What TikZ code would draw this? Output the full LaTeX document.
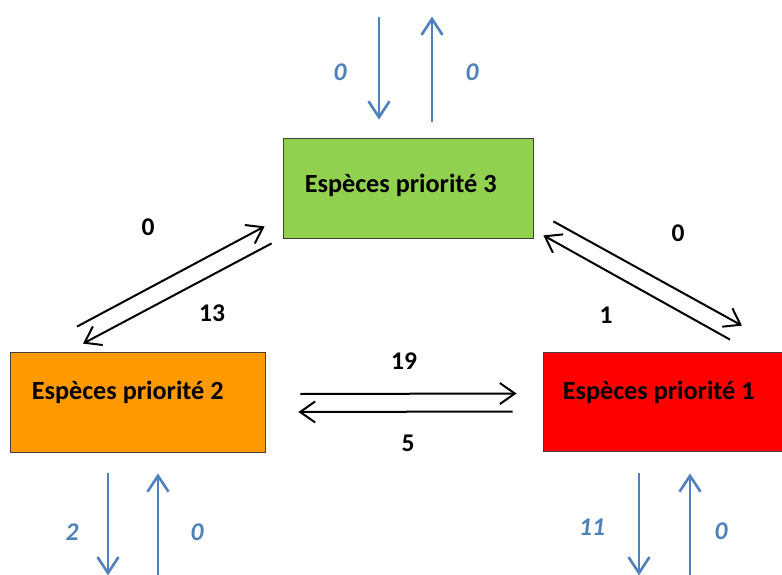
\documentclass[tikz,border=0pt]{standalone}
\usepackage{fontspec}
\setmainfont{Carlito}
\usepackage{xcolor}
\usetikzlibrary{arrows.meta,calc,positioning}
\definecolor{vertp}{HTML}{92D050}
\definecolor{orangep}{HTML}{FF9900}
\definecolor{rougep}{HTML}{FF0000}
\definecolor{bleup}{HTML}{4F81BD}
\tikzstyle{flux}=[draw=black, line width=2pt, -{Straight Barb[length=15pt,width=21pt]}]
\tikzstyle{fluxext}=[draw=bleup, line width=2.6pt, -{Straight Barb[length=16pt,width=21pt]}]

\begin{document}
\begin{tikzpicture}[x=1pt,y=-1pt,
	box/.style={draw=black!75, line width=0.8pt, minimum width=250pt, minimum height=100pt, inner sep=0pt},
	nom/.style={anchor=base west, inner sep=0pt, font=\fontsize{26.2}{30}\selectfont\bfseries},
	nb/.style={inner sep=0pt, font=\fontsize{25.5}{30}\selectfont\bfseries},
	nbext/.style={inner sep=0pt, text=bleup, font=\fontsize{25.5}{30}\selectfont\bfseries\itshape}]
	\useasboundingbox (0,0) rectangle (782,575);
	% boites
	\node[box, fill=vertp] (p3) at (408,188) {};
	\node[box, fill=orangep, minimum width=255pt] (p2) at (137.5,402) {};
	\node[box, fill=rougep, minimum height=99pt] (p1) at (668,401.5) {};
	\node[nom] (t3) at ($(p3.west)+(22,5)$) {Espèces priorité 3};
	\node[nom] (t2) at ($(p2.west)+(22,-3)$) {Espèces priorité 2};
	\node[nom] (t1) at ($(p1.west)+(20,-2.5)$) {Espèces priorité 1};
	% echanges entre les boites
	\draw[flux] ($(p2.east)+(35,-8)$) -- ($(p1.west)+(-26,-8)$);
	\draw[flux] ($(p1.west)+(-30,10)$) -- ($(p2.east)+(33,10)$);
	\draw[flux] ($(p2.north)+(-60.5,-25)$) -- ($(p3.south west)+(-18,-12)$);
	\draw[flux] ($(p3.south west)+(-11,5)$) -- ($(p2.north)+(-54.5,-8)$);
	\draw[flux] ($(p3.south east)+(20,-17)$) -- ($(p1.north)+(74,-26)$);
	\draw[flux] ($(p1.north)+(62,-12)$) -- ($(p3.south east)+(10,-3)$);
	\node[nb] (n19) at (404,361) {19};
	\node[nb] (n5) at (408,443) {5};
	\node[nb] (n0a) at (148,227) {0};
	\node[nb] (n13) at (212,313) {13};
	\node[nb] (n0b) at (678,233) {0};
	\node[nb] (n1) at (606,315) {1};
	% entrees et sorties
	\draw[fluxext] ($(p3.north)+(-29,-121)$) -- ($(p3.north)+(-29,-18)$);
	\draw[fluxext] ($(p3.north)+(24,-16)$) -- ($(p3.north)+(24,-121)$);
	\draw[fluxext] ($(p2.south)+(-29.5,21)$) -- ($(p2.south)+(-29.5,123)$);
	\draw[fluxext] ($(p2.south)+(20.5,123)$) -- ($(p2.south)+(20.5,21)$);
	\draw[fluxext] ($(p1.south)+(-29,22)$) -- ($(p1.south)+(-29,124)$);
	\draw[fluxext] ($(p1.south)+(22,124)$) -- ($(p1.south)+(22,22)$);
	\node[nbext] (e3a) at (340,72) {0};
	\node[nbext] (e3b) at (472,72) {0};
	\node[nbext] (e2a) at (72,532) {2};
	\node[nbext] (e2b) at (197,532) {0};
	\node[nbext] (e1a) at (592,527) {11};
	\node[nbext] (e1b) at (721,531) {0};
\end{tikzpicture}
\end{document}
